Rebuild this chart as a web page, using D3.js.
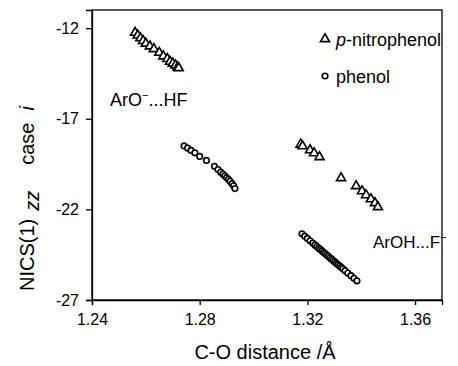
<!DOCTYPE html>
<html>
<head>
<meta charset="utf-8">
<script src="https://cdn.jsdelivr.net/npm/d3@7"></script>
<style>
  body { margin: 0; background: #fff; }
  text { font-family: Arial, "Liberation Sans", sans-serif; }
</style>
</head>
<body>
<div id="chart"></div>
<script>
// p-nitrophenol, ArO-...HF branch
const nitroHF_x = [1.2560, 1.2570, 1.2580, 1.2590, 1.2600, 1.2615, 1.2630, 1.2650, 1.2665, 1.2680, 1.2690, 1.2700, 1.2710, 1.2718, 1.2722];
const nitroHF_y = [-12.25, -12.40, -12.55, -12.70, -12.85, -13.00, -13.15, -13.35, -13.55, -13.70, -13.85, -13.95, -14.05, -14.15, -14.20];
// phenol, ArO-...HF branch
const phenolHF_x = [1.2742, 1.2755, 1.2768, 1.2782, 1.2800, 1.2825, 1.2855, 1.2868, 1.2878, 1.2886, 1.2893, 1.2900, 1.2907, 1.2913, 1.2920, 1.2926, 1.2931];
const phenolHF_y = [-18.50, -18.62, -18.75, -18.88, -19.08, -19.30, -19.62, -19.80, -19.95, -20.05, -20.15, -20.25, -20.35, -20.45, -20.58, -20.70, -20.85];
// p-nitrophenol, ArOH...F- branch
const nitroF_x = [1.3175, 1.3182, 1.3210, 1.3225, 1.3245, 1.3325, 1.3381, 1.3403, 1.3418, 1.3436, 1.3451, 1.3462];
const nitroF_y = [-18.42, -18.51, -18.73, -18.90, -19.11, -20.27, -20.71, -20.99, -21.21, -21.43, -21.65, -21.87];
// phenol, ArOH...F- branch
const phenolF_x = [1.3180, 1.3190, 1.3200, 1.3210, 1.3220, 1.3228, 1.3235, 1.3242, 1.3248, 1.3254, 1.3260, 1.3266, 1.3272, 1.3278,
                   1.3284, 1.3290, 1.3296, 1.3302, 1.3308, 1.3314, 1.3320, 1.3326, 1.3332, 1.3340, 1.3350, 1.3362, 1.3373, 1.3384];
const phenolF_y = [-23.35, -23.48, -23.60, -23.73, -23.86, -23.96, -24.05, -24.14, -24.21, -24.29, -24.37, -24.44, -24.52, -24.59,
                   -24.67, -24.75, -24.82, -24.90, -24.98, -25.05, -25.13, -25.20, -25.28, -25.38, -25.51, -25.66, -25.80, -25.94];

const xTicks = [1.24, 1.28, 1.32, 1.36];
const yTicks = [-12, -17, -22, -27];

const margin = {top: 10, right: 16, bottom: 66, left: 92},
    width = 458 - margin.left - margin.right,
    height = 366 - margin.top - margin.bottom;

const svg = d3.select("#chart")
  .append("svg")
    .attr("width", 458)
    .attr("height", 366)
  .append("g")
    .attr("transform", "translate(" + margin.left + "," + margin.top + ")");

const x = d3.scaleLinear().domain([1.24, 1.37]).range([0, width]);
const y = d3.scaleLinear().domain([-27, -11]).range([height, 0]);

// frame
svg.append("rect")
  .attr("width", width)
  .attr("height", height)
  .attr("fill", "none")
  .attr("stroke", "#000")
  .attr("stroke-width", 1.3);

svg.append("g")
  .attr("transform", "translate(0," + height + ")")
  .call(d3.axisBottom(x).tickValues(xTicks).tickFormat(d3.format(".2f")).tickSize(5).tickPadding(9));

svg.append("g")
  .call(d3.axisLeft(y).tickValues(yTicks).tickFormat(d => d).tickSize(6).tickPadding(7));

svg.selectAll(".domain, .tick line").attr("stroke", "#000").attr("stroke-width", 1.3);
svg.selectAll(".tick text").style("font-size", "16px").style("font-family", "Arial, 'Liberation Sans', sans-serif").attr("fill", "#000");

// axis titles
svg.append("text")
  .attr("x", width / 2 - 2)
  .attr("y", height + 59)
  .attr("text-anchor", "middle")
  .style("font-size", "20px")
  .text("C-O distance /\u00C5");

const yt = svg.append("text")
  .attr("transform", "translate(-58,281) rotate(-90)")
  .attr("text-anchor", "start")
  .style("font-size", "20px");
yt.append("tspan").text("NICS(1)");
yt.append("tspan").attr("dx", 8).attr("dy", 5).style("font-style", "italic").text("zz");
yt.append("tspan").attr("dx", 26).attr("dy", -5).text("case");
yt.append("tspan").attr("dx", 12).style("font-style", "italic").text("i");

const tri = d3.symbol().type(d3.symbolTriangle).size(36);
const nitroHF = nitroHF_x.map((d, i) => ({x: d, y: nitroHF_y[i]}));
const nitroF = nitroF_x.map((d, i) => ({x: d, y: nitroF_y[i]}));
const phenolHF = phenolHF_x.map((d, i) => ({x: d, y: phenolHF_y[i]}));
const phenolF = phenolF_x.map((d, i) => ({x: d, y: phenolF_y[i]}));

svg.selectAll(".tri")
  .data(nitroHF.concat(nitroF))
  .enter()
  .append("path")
    .attr("d", tri)
    .attr("transform", d => "translate(" + x(d.x) + "," + y(d.y) + ")")
    .attr("fill", "#fff")
    .attr("stroke", "#000")
    .attr("stroke-width", 1.6);

svg.selectAll(".circ")
  .data(phenolHF.concat(phenolF))
  .enter()
  .append("circle")
    .attr("cx", d => x(d.x))
    .attr("cy", d => y(d.y))
    .attr("r", 2.8)
    .attr("fill", "#fff")
    .attr("stroke", "#000")
    .attr("stroke-width", 1.6);

// annotations
const a1 = svg.append("text").attr("x", 18).attr("y", 96).style("font-size", "18px");
a1.append("tspan").text("ArO");
a1.append("tspan").attr("dy", -7).style("font-size", "11px").text("\u2212");
a1.append("tspan").attr("dy", 7).text("...HF");

const a2 = svg.append("text").attr("x", 281).attr("y", 238).style("font-size", "17px");
a2.append("tspan").text("ArOH...F");
a2.append("tspan").attr("dy", -7).style("font-size", "11px").text("\u2212");

// legend
svg.append("path")
  .attr("d", tri)
  .attr("transform", "translate(" + 233 + "," + 29 + ")")
  .attr("fill", "#fff")
  .attr("stroke", "#000")
  .attr("stroke-width", 1.6);
const l1 = svg.append("text").attr("x", 244).attr("y", 36).style("font-size", "18px");
l1.append("tspan").style("font-style", "italic").text("p");
l1.append("tspan").text("-nitrophenol");

svg.append("circle")
  .attr("cx", 233)
  .attr("cy", 66)
  .attr("r", 2.8)
  .attr("fill", "#fff")
  .attr("stroke", "#000")
  .attr("stroke-width", 1.6);
svg.append("text").attr("x", 244).attr("y", 73).style("font-size", "18px").text("phenol");
</script>
</body>
</html>
